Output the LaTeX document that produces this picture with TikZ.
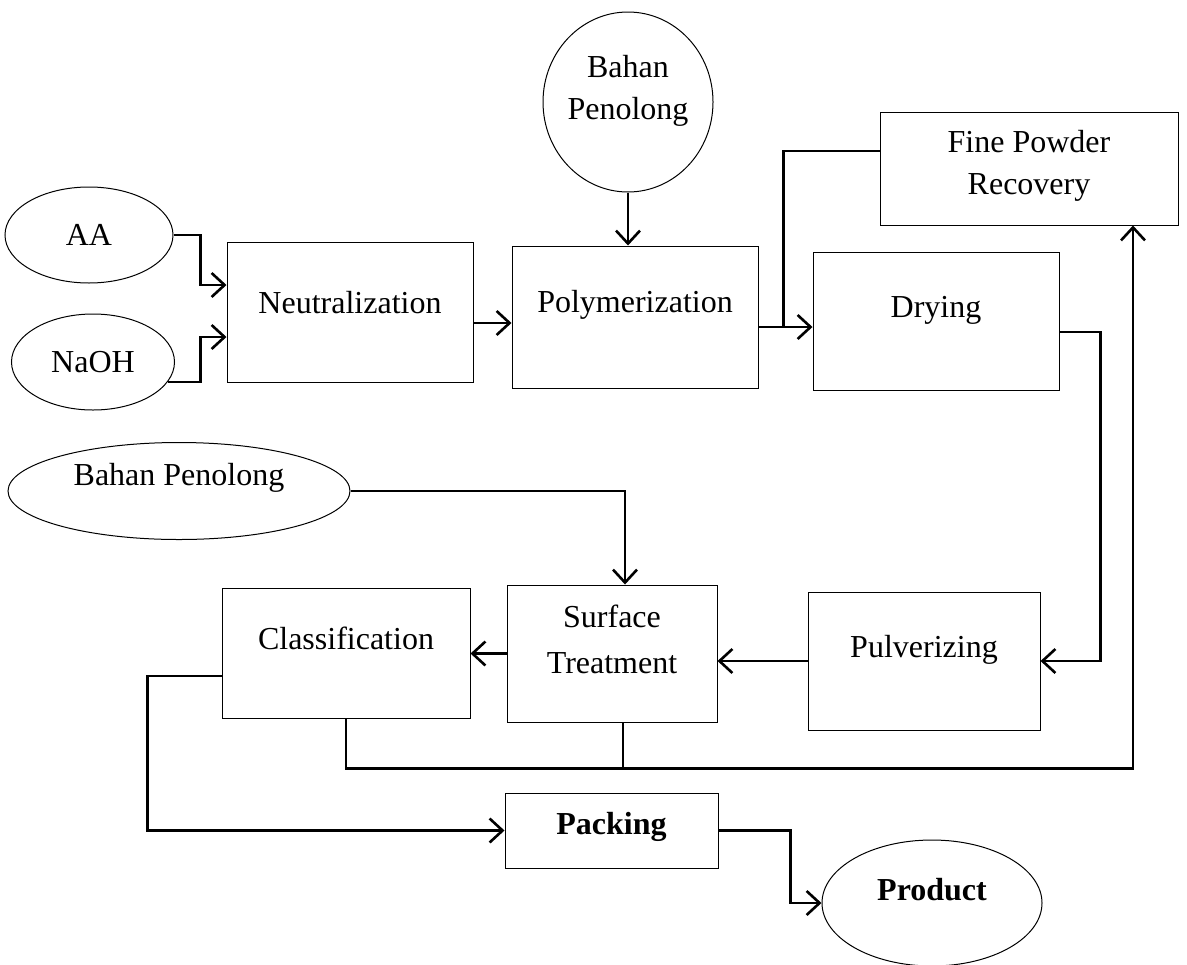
\documentclass[tikz,border=0pt]{standalone}
\usepackage{fontspec}
\setmainfont{Liberation Serif}
\usetikzlibrary{shapes.geometric,arrows.meta}

\begin{document}
\begin{tikzpicture}[x=0.5pt,y=0.5pt,font=\fontsize{16}{21}\selectfont]
\tikzstyle{every node}+=[inner sep=0pt]
\tikzstyle{box}=[draw, line width=0.5pt]
\tikzstyle{feed}=[draw, ellipse, line width=0.5pt]
\tikzstyle{flow}=[line width=1.3pt, -{Straight Barb[length=6.5pt,width=12pt]}]
\tikzstyle{tie}=[line width=1.1pt]
\useasboundingbox (0,0) rectangle (1187,-964);
% raw materials
\node [feed, minimum width=84pt, minimum height=48pt] (aa) at (89,-235) {AA};
\node [feed, minimum width=81.5pt, minimum height=48pt] (naoh) at (93,-362) {NaOH};
\node [feed, minimum width=85pt, minimum height=90pt, label={[yshift=5.5pt,align=center]center:Bahan\\Penolong}] (bp1) at (628,-102) {};
\node [feed, minimum width=171pt, minimum height=48.5pt, label={[yshift=6.5pt]center:Bahan Penolong}] (bp2) at (179,-491) {};
% process units
\node [box, minimum width=123pt, minimum height=70pt, label={[yshift=4.5pt]center:Neutralization}] (neu) at (350,-312) {};
\node [box, minimum width=123pt, minimum height=71pt, label={[yshift=6pt]center:Polymerization}] (poly) at (635,-317) {};
\node [box, minimum width=149pt, minimum height=56.5pt, label={[yshift=1.5pt,align=center]center:Fine Powder\\Recovery}] (fpr) at (1029,-168.5) {};
\node [box, minimum width=123pt, minimum height=69pt, label={[yshift=5.5pt]center:Drying}] (dry) at (936,-321) {};
\node [box, minimum width=124pt, minimum height=65pt, label={[yshift=7.5pt]center:Classification}] (cls) at (346,-653) {};
\node [box, minimum width=105pt, minimum height=68.5pt, label={[yshift=7pt,align=center]center:Surface\\[2pt]Treatment}] (srf) at (612,-653.5) {};
\node [box, minimum width=116pt, minimum height=69pt, label={[yshift=5.5pt]center:Pulverizing}] (pul) at (924,-661) {};
\node [box, minimum width=106.5pt, minimum height=37.5pt, label={[yshift=2pt]center:\textbf{Packing}}] (pack) at (611.5,-830.5) {};
\node [feed, minimum width=110pt, minimum height=63pt, label={[yshift=6.5pt]center:\textbf{Product}}] (prod) at (932,-903) {};
% flows
\draw [flow] (aa.east) -| ([xshift=-13pt,yshift=13.5pt]neu.west) -- ([yshift=13.5pt]neu.west);
\draw [flow] (naoh.-15) -| ([xshift=-13pt,yshift=-12.5pt]neu.west) -- ([yshift=-12.5pt]neu.west);
\draw [flow] ([yshift=-5.5pt]neu.east) -- ([yshift=-5.5pt]neu.east -| poly.west);
\draw [flow] (bp1.south) -- (bp1.south |- poly.north);
\draw [flow] ([yshift=-5pt]poly.east) -- ([yshift=-5pt]poly.east -| dry.west);
\draw [tie] ([xshift=12.5pt,yshift=-5pt]poly.east) |- ([yshift=8.75pt]fpr.west);
\draw [flow] ([yshift=-5.5pt]dry.east) -- ++(41,0) |- (pul.east);
\draw [flow] (pul.west) -- (pul.west -| srf.east);
\draw [flow] (bp2.east) -| ([xshift=6.5pt]srf.north);
\draw [flow] (srf.west) -- (srf.west -| cls.east);
\draw [flow] (cls.south) -- ++(0,-50) -| ([xshift=52pt]fpr.south);
\draw [tie] ([xshift=5.5pt]srf.south) -- ++(0,-46);
\draw [flow] ([yshift=-11.5pt]cls.west) -- ++(-74,0) |- (pack.west);
\draw [flow] (pack.east) -- ++(72,0) |- (prod.west);
\end{tikzpicture}
\end{document}
